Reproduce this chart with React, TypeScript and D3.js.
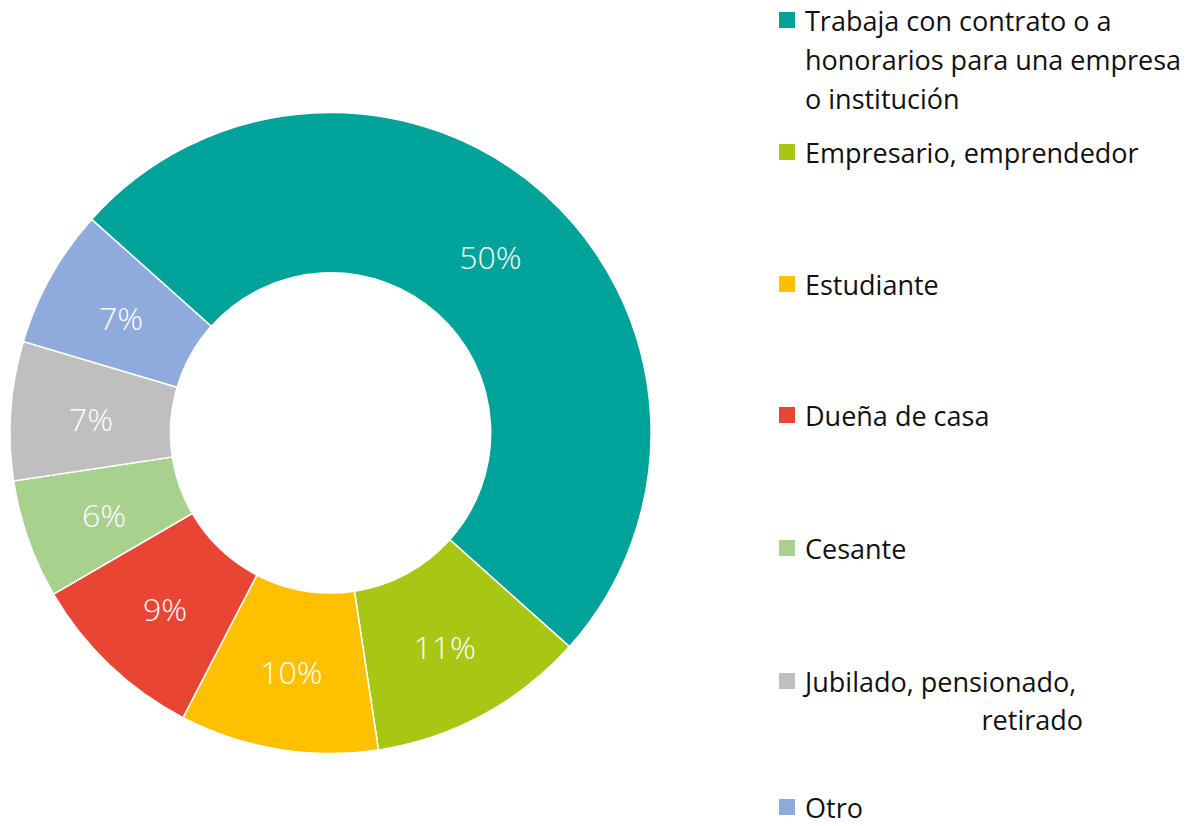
import React from "react";
import * as d3 from "d3";

const categories = [
  "Trabaja con contrato o a honorarios para una empresa o institución",
  "Empresario, emprendedor",
  "Estudiante",
  "Dueña de casa",
  "Cesante",
  "Jubilado, pensionado, retirado",
  "Otro",
];
const values = [50, 11, 10, 9, 6, 7, 7];
const labels = ["50%", "11%", "10%", "9%", "6%", "7%", "7%"];
const colors = ["#00A39A", "#A8C614", "#FFC000", "#E84535", "#A9D18E", "#BFBFBF", "#8FAADC"];
const legendLines = [
  ["Trabaja con contrato o a", "honorarios para una empresa", "o institución"],
  ["Empresario, emprendedor"],
  ["Estudiante"],
  ["Dueña de casa"],
  ["Cesante"],
  ["Jubilado, pensionado,", "retirado"],
  ["Otro"],
];

export default function App() {
  const W = 1192, H = 826;
  const cx = 330.5, cy = 433;
  const outerR = 320.5, innerR = 160;
  const start = (-48.2 * Math.PI) / 180;
  const pie = d3.pie<number>().sort(null).value((d) => d).startAngle(start).endAngle(start + 2 * Math.PI);
  const arcs = pie(values);
  const arc = d3.arc<d3.PieArcDatum<number>>().innerRadius(innerR).outerRadius(outerR);
  const labelArc = d3.arc<d3.PieArcDatum<number>>().innerRadius(240).outerRadius(240);

  const legendY = [20, 152, 284, 415, 548, 681, 807];
  const lineH = 39;
  const font = "'Open Sans', 'Noto Sans', sans-serif";

  return (
    <svg width={W} height={H} style={{ position: "absolute", left: 0, top: 0 }}>
      <rect width={W} height={H} fill="#fff" />
      <g transform={`translate(${cx},${cy})`}>
        {arcs.map((a, i) => (
          <path key={i} d={arc(a) || ""} fill={colors[i]} stroke="#fff" strokeWidth={1.5} />
        ))}
        {arcs.map((a, i) => {
          const [x, y] = labelArc.centroid(a);
          return (
            <text key={i} x={x} y={y + 2} textAnchor="middle" dominantBaseline="central"
              fill="#fff" fontSize={32} fontFamily={font} fontWeight={300}>
              {labels[i]}
            </text>
          );
        })}
      </g>
      {categories.map((c, i) => (
        <g key={i}>
          <rect x={779} y={legendY[i] - 8} width={16} height={16} fill={colors[i]} />
          {legendLines[i].map((ln, j) => (
            <text key={j}
              x={i === 5 && j === 1 ? 1083 : 805}
              y={legendY[i] + j * (i === 5 ? 38 : lineH)}
              textAnchor={i === 5 && j === 1 ? "end" : "start"}
              dominantBaseline="central" fontSize={27} fontFamily={font} fill="#111">
              {ln}
            </text>
          ))}
        </g>
      ))}
    </svg>
  );
}
